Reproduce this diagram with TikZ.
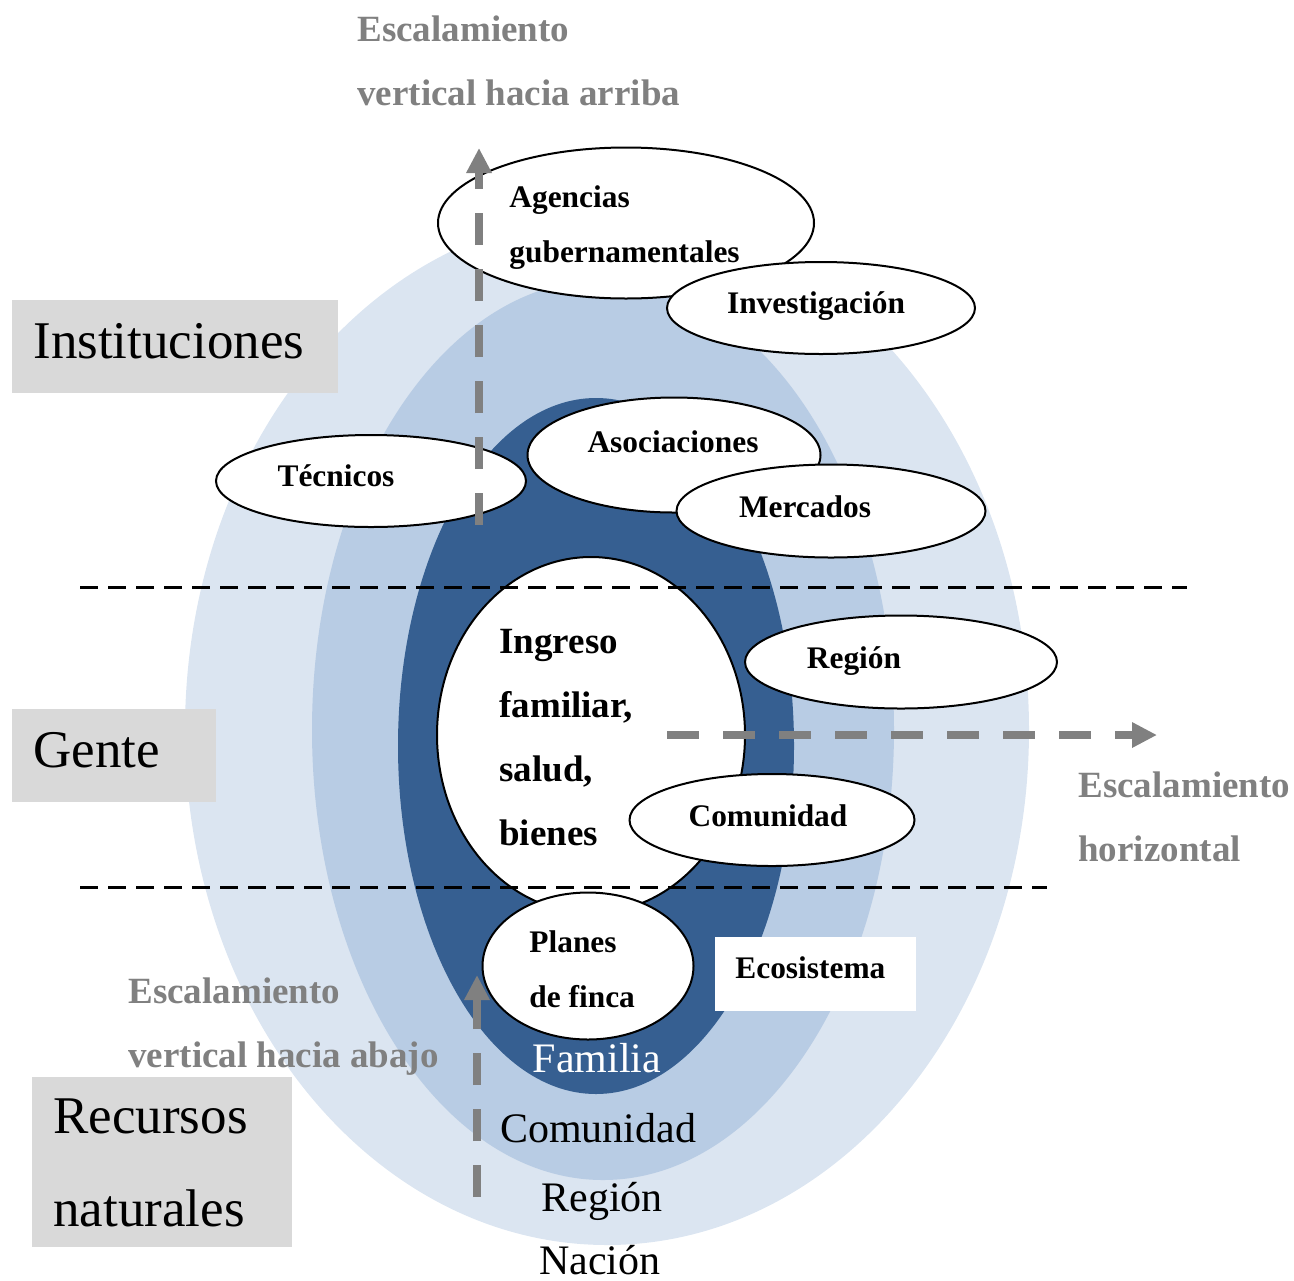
\documentclass[tikz,border=0pt]{standalone}
\usepackage{fontspec}
\setmainfont{Liberation Serif}
\usetikzlibrary{shapes.geometric,arrows.meta}
\definecolor{ringlight}{HTML}{DBE5F1}
\definecolor{ringmid}{HTML}{B8CCE4}
\definecolor{ringdark}{HTML}{365F91}
\definecolor{boxgray}{HTML}{D9D9D9}
\definecolor{scalegray}{HTML}{808080}
\tikzset{
  oval/.style={ellipse, draw=black, fill=white, line width=1pt, inner sep=0pt},
  ovaltext/.style={font=\bfseries\fontsize{15.7}{27.5}\selectfont, align=left, inner sep=0pt},
  tag/.style={fill=boxgray, inner xsep=10.5pt, inner ysep=0pt, anchor=north west, align=left, font=\fontsize{26.5}{46.5}\selectfont, minimum height=46.5pt},
  scaletext/.style={font=\fontsize{21}{34.5}\selectfont, inner sep=0pt},
  graytext/.style={font=\bfseries\fontsize{18.5}{32}\selectfont, text=scalegray, align=left, inner sep=0pt, anchor=west},
  levelline/.style={line width=1.5pt, dash pattern=on 9pt off 5pt},
  scalearrow/.style={scalegray, line width=4pt, dash pattern=on 16pt off 12pt, -{Triangle[width=12pt,length=12.5pt]}},
}
\begin{document}
\begin{tikzpicture}[x=0.5pt, y=-0.5pt]
            \useasboundingbox (0,0) rectangle (1294,1280);
            % scale rings
            \fill[ringlight] (607,730) ellipse [x radius=211pt, y radius=257.5pt];
            \fill[ringmid] (603,730) ellipse [x radius=145.5pt, y radius=225pt];
            \fill[ringdark] (596,746) ellipse [x radius=99pt, y radius=174pt];

            % levels
            \node[tag, text width=142pt, text depth=6pt] (inst) at (12,300) {Instituciones};
            \node[tag, text width=81pt, text depth=6pt] (gente) at (12,709) {Gente};
            \node[tag, text width=109pt, minimum height=85pt] (recursos) at (32,1077) {Recursos\\naturales};

            % actors
            \node[oval, minimum width=188pt, minimum height=75.5pt] (agencias) at (626,223) {};
            \node[oval, minimum width=154pt, minimum height=46pt] (investig) at (821,308) {};
            \node[oval, minimum width=155pt, minimum height=46pt] (tecnicos) at (371,481) {};
            \node[oval, minimum width=146.5pt, minimum height=57.5pt] (asoc) at (674,455) {};
            \node[oval, minimum width=154.5pt, minimum height=46.5pt] (mercados) at (831,511) {};
            \node[oval, minimum width=154pt, minimum height=178pt] (ingreso) at (591,735) {};
            \node[oval, minimum width=156pt, minimum height=46.5pt] (region) at (901,662) {};
            \node[oval, minimum width=142.5pt, minimum height=46pt] (comunidad) at (772,820) {};
            \node[oval, minimum width=105.5pt, minimum height=73.5pt] (planes) at (588,966) {};
            \node[fill=white, inner sep=0pt, minimum width=100.5pt, minimum height=37pt] (ecosis) at (815.5,974) {};

            % level borders
            \coordinate (l1a) at (80,587);
            \coordinate (l1b) at (1187,587);
            \coordinate (l2a) at (80,887);
            \coordinate (l2b) at (1047,887);
            \draw[levelline] (l1a) -- (l1b);
            \draw[levelline] (l2a) -- (l2b);

            % scaling arrows
            \coordinate (up0) at (479,525);
            \coordinate (up1) at (479,148);
            \coordinate (hz0) at (667,735);
            \coordinate (hz1) at (1157,735);
            \coordinate (dn0) at (477,1197);
            \coordinate (dn1) at (477,975);
            \draw[scalearrow] (up0) -- (up1);
            \draw[scalearrow] (hz0) -- (hz1);
            \draw[scalearrow] (dn0) -- (dn1);

            % texts
            \node[ovaltext, anchor=west] (agencias-t) at (509,228) {Agencias\\gubernamentales};
            \node[ovaltext] (investig-t) at (816,306) {Investigación};
            \node[ovaltext] (tecnicos-t) at (336,476) {Técnicos};
            \node[ovaltext] (asoc-t) at (673,442) {Asociaciones};
            \node[ovaltext] (mercados-t) at (805,507) {Mercados};
            \node[ovaltext, anchor=west, font=\bfseries\fontsize{18.5}{32}\selectfont] (ingreso-t) at (499,738) {Ingreso\\familiar,\\salud,\\bienes};
            \node[ovaltext] (region-t) at (854,661) {Región};
            \node[ovaltext] (comunidad-t) at (768,816) {Comunidad};
            \node[ovaltext, anchor=west] (planes-t) at (529,969) {Planes\\de finca};
            \node[ovaltext, anchor=west] (ecosis-t) at (735,968) {Ecosistema};

            \node[scaletext, text=white] (familia-s) at (597,1058) {Familia};
            \node[scaletext] (comunidad-s) at (598,1128) {Comunidad};
            \node[scaletext] (region-s) at (602,1201) {Región};
            \node[scaletext] (nacion-s) at (600,1260) {Nación};

            \node[graytext] (up-t) at (357,61) {Escalamiento\\vertical hacia arriba};
            \node[graytext] (hz-t) at (1078,817) {Escalamiento\\horizontal};
            \node[graytext] (dn-t) at (128,1027) {Escalamiento\\vertical hacia abajo};
\end{tikzpicture}
\end{document}
